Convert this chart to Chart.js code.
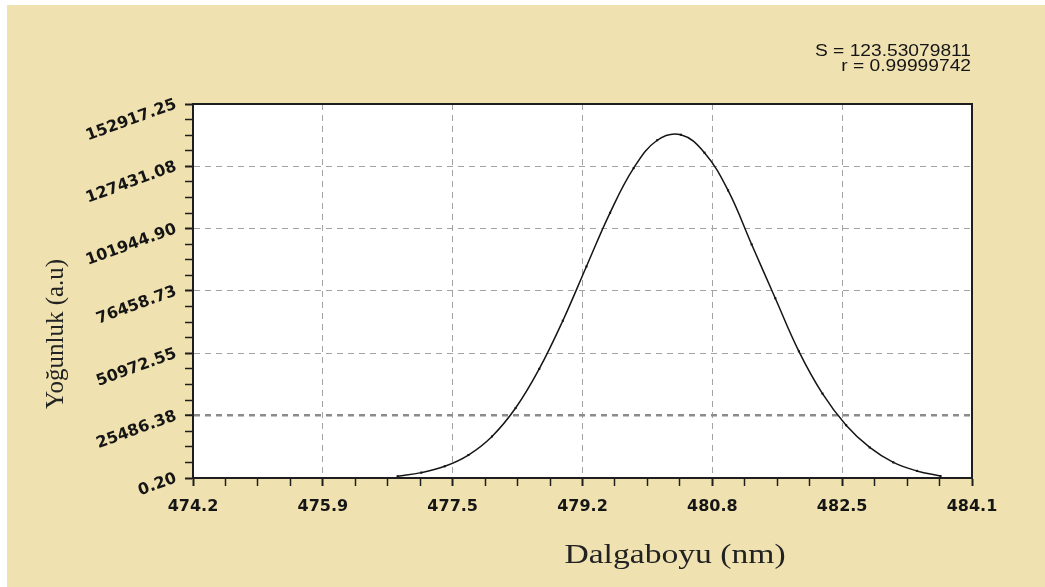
<!DOCTYPE html>
<html>
<head>
<meta charset="utf-8">
<script src="https://cdn.jsdelivr.net/npm/chart.js@4"></script>
<style>
  html, body { margin: 0; padding: 0; background: #fff; }
  #wrap { position: relative; width: 1045px; height: 587px; }
</style>
</head>
<body>
<div id="wrap"><canvas id="spektrum"></canvas></div>
<script>
// measured profile (nm / a.u.)
const wavelength = [476.8, 477.1, 477.4, 477.7, 478.0, 478.3, 478.6, 478.9, 479.2, 479.5,
                    479.8, 480.1, 480.4, 480.7, 481.0, 481.3, 481.6, 481.9, 482.2, 482.5,
                    482.8, 483.1, 483.4, 483.7];
const intensity = [700, 2200, 4800, 9400, 17000, 28600, 44600, 64300, 86500, 108400,
                   126700, 138100, 140350, 133000, 117600, 95500, 73500, 51800, 34500, 21600,
                   12500, 6400, 2900, 800];

const xTickValues = [474.2, 475.85, 477.5, 479.15, 480.8, 482.45, 484.1];
const xTickLabels = ["474.2", "475.9", "477.5", "479.2", "480.8", "482.5", "484.1"];
const yTickValues = [0.20, 25486.38, 50972.55, 76458.73, 101944.90, 127431.08, 152917.25];
const yTickLabels = ["0.20", "25486.38", "50972.55", "76458.73", "101944.90", "127431.08", "152917.25"];

const fitS = "S = 123.53079811";
const fitR = "r = 0.99999742";
const xTitle = "Dalgaboyu (nm)";
const yTitle = "Yoğunluk (a.u)";

const paper = "#efe2b0";
const ink = "#151515";

// majors with three minor ticks in between
function tickList(values, labels) {
    const out = [];
    values.forEach((v, i) => {
        out.push({ value: v, major: true, text: labels[i] });
        if (i < values.length - 1) {
            const step = (values[i + 1] - v) / 4;
            for (let k = 1; k < 4; k++) out.push({ value: v + step * k, major: false, text: "" });
        }
    });
    return out;
}

function stretchedText(ctx, text, x, y, align, sx) {
    ctx.save();
    ctx.translate(x, y);
    ctx.scale(sx, 1);
    ctx.textAlign = align;
    ctx.fillText(text, 0, 0);
    ctx.restore();
}

const paperPlugin = {
    id: "paper",
    beforeDraw(chart) {
        const { ctx, chartArea: a } = chart;
        ctx.save();
        ctx.fillStyle = "#fff";
        ctx.fillRect(0, 0, chart.width, chart.height);
        ctx.fillStyle = paper;
        ctx.fillRect(7, 5, chart.width - 7, chart.height - 5);
        ctx.fillStyle = "#fff";
        ctx.fillRect(a.left, a.top, a.right - a.left, a.bottom - a.top);
        ctx.restore();
    },
    afterDraw(chart) {
        const { ctx, chartArea: a } = chart;
        ctx.save();
        ctx.strokeStyle = "#1e1e1e";
        ctx.lineWidth = 2;
        ctx.strokeRect(a.left, a.top, a.right - a.left, a.bottom - a.top);

        ctx.fillStyle = "#222";
        ctx.textBaseline = "alphabetic";
        ctx.font = "28px 'Liberation Serif', 'Times New Roman', serif";
        stretchedText(ctx, xTitle, 675, 563, "center", 1.2);

        ctx.save();
        ctx.translate(56, 334);
        ctx.rotate(-Math.PI / 2);
        ctx.font = "25px 'Liberation Serif', 'Times New Roman', serif";
        ctx.textAlign = "center";
        ctx.textBaseline = "middle";
        ctx.fillText(yTitle, 0, 0);
        ctx.restore();

        ctx.fillStyle = ink;
        ctx.font = "16px 'Liberation Sans', Arial, sans-serif";
        ctx.textBaseline = "middle";
        stretchedText(ctx, fitS, 971, 52, "right", 1.2);
        stretchedText(ctx, fitR, 971, 67, "right", 1.2);
        ctx.restore();
    }
};

const tickFont = { family: "'DejaVu Sans', sans-serif", size: 16, weight: "bold" };

new Chart(document.getElementById("spektrum"), {
    type: "line",
    data: {
        datasets: [{
            data: wavelength.map((x, i) => ({ x: x, y: intensity[i] })),
            borderColor: ink,
            borderWidth: 1.5,
            tension: 0.4,
            pointStyle: "rect",
            pointRadius: 1.5,
            pointBackgroundColor: ink,
            pointBorderWidth: 0
        }]
    },
    options: {
        responsive: true,
        maintainAspectRatio: false,
        animation: false,
        layout: { padding: { top: 104, right: 73, bottom: 0, left: 0 } },
        plugins: { legend: { display: false }, tooltip: { enabled: false } },
        scales: {
            x: {
                type: "linear",
                min: 474.2,
                max: 484.1,
                afterBuildTicks: s => { s.ticks = tickList(xTickValues, xTickLabels); },
                afterFit: s => { s.height = 109; },
                border: { display: true, color: "#1e1e1e", width: 2, dash: [6, 5] },
                grid: {
                    color: c => (c.tick && c.tick.major ? "#a3a3a3" : "rgba(0,0,0,0)"),
                    lineWidth: 1,
                    tickLength: 8,
                    tickColor: "#1e1e1e",
                    tickWidth: c => (c.tick && c.tick.major ? 2 : 1.5),
                    tickBorderDash: []
                },
                ticks: {
                    autoSkip: false,
                    maxRotation: 0,
                    minRotation: 0,
                    padding: 11,
                    color: ink,
                    font: tickFont,
                    callback: (v, i, ticks) => ticks[i].text
                }
            },
            y: {
                type: "linear",
                min: 0.20,
                max: 152917.25,
                afterBuildTicks: s => { s.ticks = tickList(yTickValues, yTickLabels); },
                afterFit: s => { s.width = 193; },
                border: { display: true, color: "#1e1e1e", width: 2, dash: [6, 5] },
                grid: {
                    color: c => {
                        if (!c.tick || !c.tick.major) return "rgba(0,0,0,0)";
                        return c.tick.value === yTickValues[1] ? "#8c8c8c" : "#a3a3a3";
                    },
                    lineWidth: c => (c.tick && c.tick.value === yTickValues[1] ? 2.5 : 1),
                    tickLength: 8,
                    tickColor: "#1e1e1e",
                    tickWidth: c => (c.tick && c.tick.major ? 2 : 1.5),
                    tickBorderDash: []
                },
                ticks: {
                    autoSkip: false,
                    minRotation: 20,
                    maxRotation: 20,
                    padding: 9,
                    color: ink,
                    font: tickFont,
                    callback: (v, i, ticks) => ticks[i].text
                }
            }
        }
    },
    plugins: [paperPlugin]
});
</script>
</body>
</html>
